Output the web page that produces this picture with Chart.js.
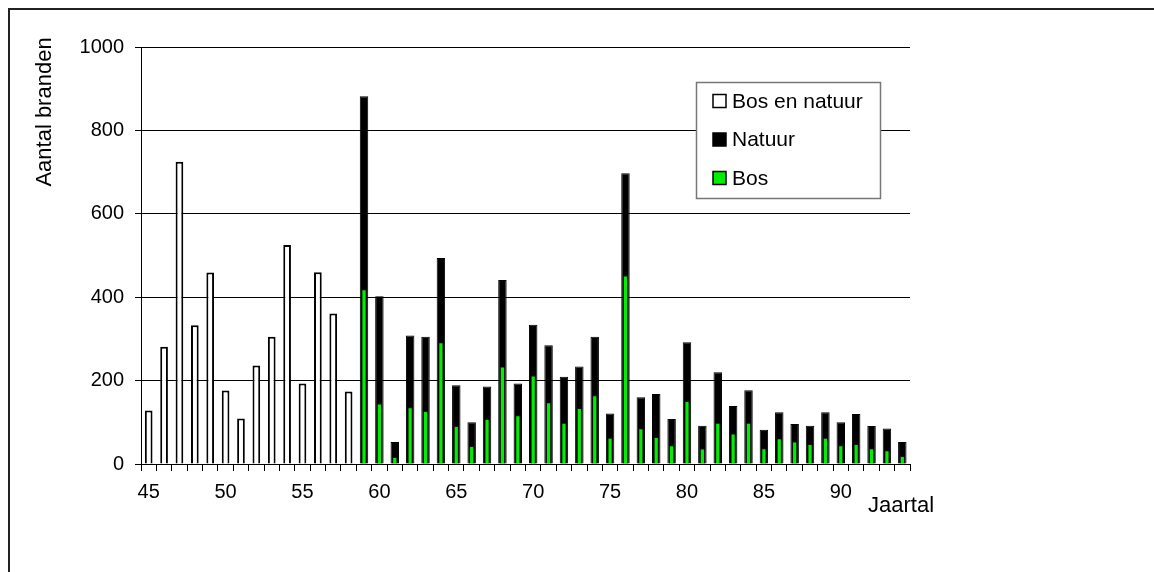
<!DOCTYPE html>
<html>
<head>
<meta charset="utf-8">
<title>Aantal branden</title>
<script src="https://cdn.jsdelivr.net/npm/chart.js@4"></script>
<style>
  html, body { margin: 0; padding: 0; background: #fff; }
  canvas { display: block; }
</style>
</head>
<body>
<canvas id="chart" width="1154" height="572"></canvas>
<script>
(function () {
  'use strict';

  // --- Data ---
  var years = ['45', '46', '47', '48', '49', '50', '51', '52', '53', '54', '55', '56', '57', '58', '59',
    '60', '61', '62', '63', '64', '65', '66', '67', '68', '69', '70', '71', '72', '73', '74', '75', '76',
    '77', '78', '79', '80', '81', '82', '83', '84', '85', '86', '87', '88', '89', '90', '91', '92', '93', '94'];

  // 1945 - 1958: only one total
  var bosEnNatuur = [128, 281, 725, 333, 459, 176, 109, 236, 305, 525, 193, 460, 361, 174];

  // 1959 - 1994: total (black) and bos (green)
  var natuur = [882, 402, 53, 308, 305, 494, 189, 100, 186, 441, 193, 334, 285, 209, 234, 305, 121, 697,
    160, 168, 108, 292, 92, 220, 139, 177, 82, 124, 96, 92, 124, 100, 120, 91, 85, 53];
  var bos = [419, 145, 17, 136, 127, 292, 91, 43, 108, 234, 117, 212, 148, 99, 134, 165, 63, 452,
    86, 65, 45, 151, 37, 99, 73, 99, 38, 62, 54, 48, 63, 45, 48, 38, 33, 19];

  var yTicks = [0, 200, 400, 600, 800, 1000];

  var FONT = "Arial, 'Liberation Sans', sans-serif";
  var GREEN = '#00ee00';

  function pad(before, arr, after) {
    var out = [];
    var i;
    for (i = 0; i < before; i++) out.push(null);
    out = out.concat(arr);
    for (i = 0; i < after; i++) out.push(null);
    return out;
  }

  var early = bosEnNatuur.length;
  var late = natuur.length;

  // --- Frame, axis titles and the boxed legend ---
  var decorPlugin = {
    id: 'decor',
    beforeDraw: function (chart) {
      var ctx = chart.ctx;
      ctx.save();
      ctx.fillStyle = '#fff';
      ctx.fillRect(0, 0, chart.width, chart.height);
      ctx.strokeStyle = '#222';
      ctx.lineWidth = 2;
      ctx.beginPath();
      ctx.moveTo(9, chart.height);
      ctx.lineTo(9, 9);
      ctx.lineTo(chart.width, 9);
      ctx.stroke();
      ctx.restore();
    },
    afterDraw: function (chart) {
      var ctx = chart.ctx;
      var area = chart.chartArea;
      ctx.save();

      // y title
      ctx.fillStyle = '#000';
      ctx.font = '22px ' + FONT;
      ctx.textAlign = 'center';
      ctx.textBaseline = 'middle';
      ctx.translate(45, 112);
      ctx.rotate(-Math.PI / 2);
      ctx.fillText('Aantal branden', 0, 0);
      ctx.setTransform(1, 0, 0, 1, 0, 0);

      // x title
      ctx.textAlign = 'left';
      ctx.textBaseline = 'alphabetic';
      ctx.fillText('Jaartal', area.right - 42, area.bottom + 48);

      // legend
      var bx = area.right - 214, by = area.top + 35, bw = 184, bh = 116;
      ctx.fillStyle = '#fff';
      ctx.fillRect(bx, by, bw, bh);
      ctx.strokeStyle = '#777';
      ctx.lineWidth = 1.5;
      ctx.strokeRect(bx + 0.5, by + 0.5, bw, bh);

      var sets = chart.data.datasets;
      ctx.font = '21px ' + FONT;
      ctx.textBaseline = 'middle';
      for (var i = 0; i < sets.length; i++) {
        var cy = by + 19 + i * 38.5;
        ctx.fillStyle = sets[i].backgroundColor;
        ctx.fillRect(bx + 17, cy - 6.5, 13, 13);
        ctx.strokeStyle = '#000';
        ctx.lineWidth = 1.5;
        ctx.strokeRect(bx + 17, cy - 6.5, 13, 13);
        ctx.fillStyle = '#000';
        ctx.fillText(sets[i].label, bx + 36, cy + 1);
      }
      ctx.restore();
    }
  };

  var tickFont = { family: FONT, size: 20 };

  new Chart(document.getElementById('chart'), {
    type: 'bar',
    data: {
      labels: years,
      datasets: [
        {
          label: 'Bos en natuur',
          data: pad(0, bosEnNatuur, late),
          backgroundColor: '#fff',
          borderColor: '#000',
          borderWidth: 2,
          barPercentage: 0.5,
          categoryPercentage: 1,
          grouped: false,
          order: 2
        },
        {
          label: 'Natuur',
          data: pad(early, natuur, 0),
          backgroundColor: '#000',
          borderColor: '#000',
          borderWidth: 1,
          barPercentage: 0.55,
          categoryPercentage: 1,
          grouped: false,
          order: 1
        },
        {
          label: 'Bos',
          data: pad(early, bos, 0),
          backgroundColor: GREEN,
          borderColor: '#111',
          borderWidth: 1,
          barPercentage: 0.34,
          categoryPercentage: 1,
          grouped: false,
          order: 0
        }
      ]
    },
    options: {
      responsive: false,
      animation: false,
      layout: { padding: { top: 47, right: 244, left: 0, bottom: 0 } },
      plugins: {
        legend: { display: false },
        tooltip: { enabled: false }
      },
      scales: {
        x: {
          offset: true,
          grid: { offset: true, drawOnChartArea: false, tickLength: 7, color: '#000', lineWidth: 1 },
          border: { color: '#000', width: 1 },
          ticks: {
            autoSkip: false,
            maxRotation: 0,
            padding: 9,
            color: '#000',
            font: tickFont,
            callback: function (value) {
              var lab = this.getLabelForValue(value);
              return Number(lab) % 5 === 0 ? lab : '';
            }
          },
          afterFit: function (scale) { scale.height = 108; }
        },
        y: {
          min: 0,
          max: 1000,
          afterBuildTicks: function (scale) {
            scale.ticks = yTicks.map(function (v) { return { value: v }; });
          },
          grid: { color: '#000', lineWidth: 1, tickLength: 6 },
          border: { color: '#000', width: 1 },
          ticks: {
            padding: 11,
            color: '#000',
            font: tickFont,
            callback: function (value) { return String(value); }
          },
          afterFit: function (scale) { scale.width = 141; }
        }
      }
    },
    plugins: [decorPlugin]
  });
})();
</script>
</body>
</html>
